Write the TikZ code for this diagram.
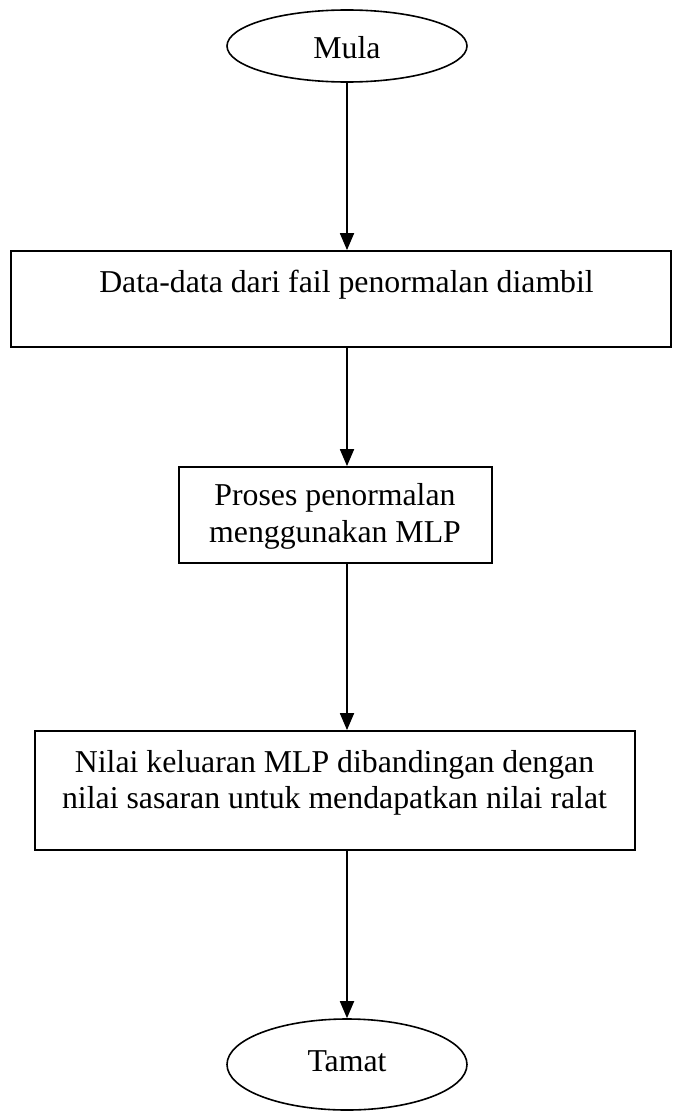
\documentclass[tikz,border=0pt]{standalone}
\usepackage{fontspec}
\setmainfont{Liberation Serif}
\usetikzlibrary{arrows.meta,shapes.geometric}
\begin{document}
\begin{tikzpicture}[x=1pt,y=-1pt,
  every node/.style={font=\fontsize{31.8}{37}\selectfont},
  boxnode/.style={draw,line width=1.8pt,rectangle,inner sep=0pt},
  termnode/.style={draw,line width=1.6pt,ellipse,inner sep=0pt},
  txt/.style={inner sep=0pt,anchor=base,align=center},
  arr/.style={line width=1.8pt,-{Triangle[length=17pt,width=14pt]}}]
\useasboundingbox (0,0) rectangle (672,1111);
\node[termnode,minimum width=240pt,minimum height=72pt] (mula) at (347,46) {};
\node[txt] (tmula) at (347,58) {Mula};
\node[boxnode,minimum width=660pt,minimum height=96pt] (b1) at (341,299) {};
\node[txt] (t1) at (346.5,292) {Data-data dari fail penormalan diambil};
\node[boxnode,minimum width=313pt,minimum height=96pt] (b2) at (335.5,515) {};
\node[txt] (t2a) at (335,505) {Proses penormalan};
\node[txt] (t2b) at (335,542) {menggunakan MLP};
\node[boxnode,minimum width=600pt,minimum height=119pt] (b3) at (335,790.5) {};
\node[txt] (t3a) at (334.5,772) {Nilai keluaran MLP dibandingan dengan};
\node[txt] (t3b) at (334.5,808) {nilai sasaran untuk mendapatkan nilai ralat};
\node[termnode,minimum width=240pt,minimum height=91pt] (tamat) at (347,1064.5) {};
\node[txt] (ttamat) at (347,1071) {Tamat};
\draw[arr] (mula.south) -- (mula.south |- b1.north);
\draw[arr] (mula.south |- b1.south) -- (mula.south |- b2.north);
\draw[arr] (mula.south |- b2.south) -- (mula.south |- b3.north);
\draw[arr] (mula.south |- b3.south) -- (tamat.north);
\end{tikzpicture}
\end{document}
